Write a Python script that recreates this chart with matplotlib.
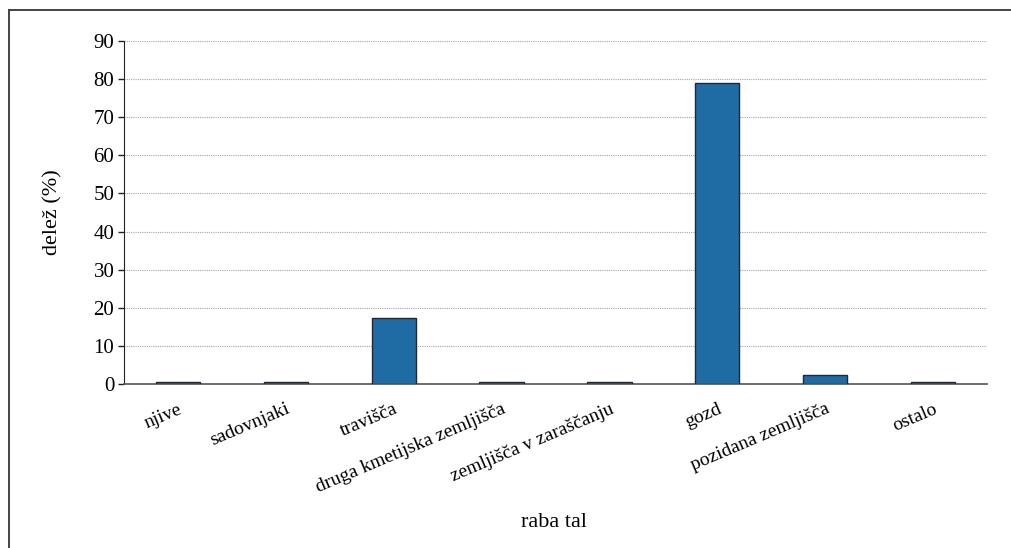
import matplotlib
matplotlib.use("Agg")
import matplotlib.pyplot as plt
from matplotlib.lines import Line2D

categories = ["njive", "sadovnjaki", "travišča", "druga kmetijska zemljišča",
              "zemljišča v zaraščanju", "gozd", "pozidana zemljišča", "ostalo"]
values = [0.5, 0.5, 17.2, 0.5, 0.5, 78.9, 2.4, 0.5]
yticks = [0, 10, 20, 30, 40, 50, 60, 70, 80, 90]

plt.rcParams['font.family'] = ['Liberation Serif', 'DejaVu Serif']

fig = plt.figure(figsize=(10.11, 5.48), dpi=100)
ax = fig.add_axes([0.1227, 0.2993, 0.8536, 0.6259])

x = list(range(len(categories)))
ax.bar(x, values, width=0.41, color='#1f6ca5', edgecolor='#222833', linewidth=1.0, zorder=3)

ax.set_xlim(-0.5, len(categories) - 0.5)
ax.set_ylim(0, 90)
ax.set_yticks(yticks)
ax.set_yticklabels([str(v) for v in yticks], fontsize=15)
ax.set_xticks(x)
ax.set_xticklabels(categories, rotation=23, ha='right', rotation_mode='anchor', fontsize=14)
ax.tick_params(axis='x', length=0, pad=12)
ax.tick_params(axis='y', length=4, width=1, color='#222222', pad=3)

ax.grid(axis='y', linestyle=(0, (1, 1)), color='#a5a5a5', linewidth=0.8, zorder=0)
ax.set_axisbelow(True)

for s in ['top', 'right']:
    ax.spines[s].set_visible(False)
ax.spines['left'].set_color('#222222')
ax.spines['bottom'].set_color('#555555')
ax.spines['bottom'].set_linewidth(1.2)

ax.set_ylabel("delež (%)", fontsize=16, labelpad=22)
fig.text(0.548, 0.047, "raba tal", ha='center', va='center', fontsize=16)

# outer frame (top and left lines)
fig.add_artist(Line2D([0.0085, 0.0085], [0.0, 0.981], transform=fig.transFigure,
                      color='#444444', linewidth=1.4))
fig.add_artist(Line2D([0.0085, 1.0], [0.981, 0.981], transform=fig.transFigure,
                      color='#444444', linewidth=1.4))

fig.savefig("out.png", dpi=100)
